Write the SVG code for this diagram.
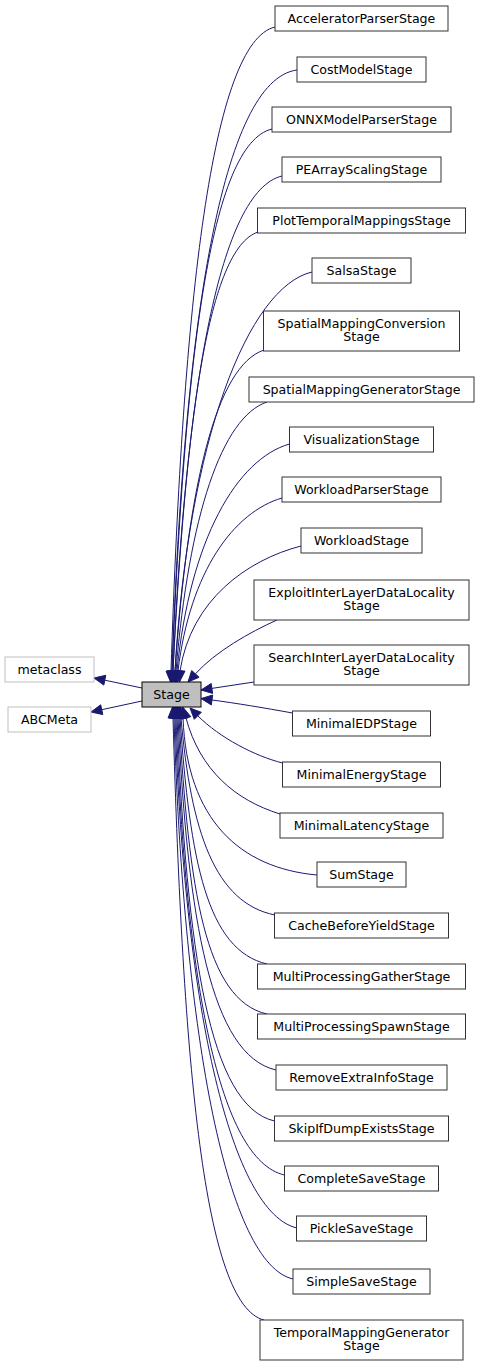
<svg xmlns="http://www.w3.org/2000/svg" width="480" height="1366" viewBox="0 0 480 1366">
<style>
.n rect{fill:#ffffff;stroke:#333333;stroke-width:1}
.g rect{fill:#ffffff;stroke:#bfbfbf;stroke-width:1}
.s rect{fill:#bfbfbf;stroke:#000000;stroke-width:1}
text{font-family:"DejaVu Sans","Liberation Sans",sans-serif;font-size:12.6px;fill:#000;text-anchor:middle}
#edges path{fill:none;stroke:#191970;stroke-width:1}
#edges polygon{fill:#191970;stroke:#191970;stroke-width:1}
</style>
<rect width="480" height="1366" fill="#ffffff"/>
<g id="edges">
<path d="M275,27 C212,42 183,298 171,671"/><polygon points="166,671 176,671 170.5,682"/>
<path d="M297,70 C222,80 184,322 172,671"/><polygon points="167,671 177,671 171.5,682"/>
<path d="M272,129 C210,144 185,357 172,671"/><polygon points="167,671 177,671 171.5,682"/>
<path d="M282,176 C220,191 186,384 173,671"/><polygon points="168,671 178,671 172.5,682"/>
<path d="M258,232 C208,249 186,418 173,671"/><polygon points="168,671 178,671 172.5,682"/>
<path d="M312,272 C248,287 188,440 175,671"/><polygon points="170,671 180,671 174.5,682"/>
<path d="M264,350 C216,366 188,485 175,671"/><polygon points="170,671 180,671 174.5,682"/>
<path d="M267,402 C222,417 189,515 176,671"/><polygon points="171,671 181,671 175.5,682"/>
<path d="M289.5,444 C237,459 190,539 177,671"/><polygon points="172,671 182,671 176.5,682"/>
<path d="M282,498 C234,512 190,571 178,671"/><polygon points="173,671 183,671 177.5,682"/>
<path d="M301,546 C247,560 191,600 180,671"/><polygon points="175,671 185,671 179.5,682"/>
<path d="M277,620 C250,632 215,652 195.4,673.9"/><polygon points="199.1,677.3 191.7,670.5 188,682"/>
<path d="M254,682 L211.9,688.4"/><polygon points="212.6,693.4 211.2,683.5 201,690"/>
<path d="M292.5,713 C265,708 235,703 212,700"/><polygon points="212.65,695.05 211.35,704.95 201.1,698.6"/>
<path d="M282.5,763 C255,756 220,738 197.8,715.8"/><polygon points="201.3,712.3 194.3,719.3 190,708"/>
<path d="M280,814 C235,800 200,770 186,718"/><polygon points="190.8,716.7 181.2,719.3 183.1,707.4"/>
<path d="M317,875 C240,868 187,820 183,718"/><polygon points="178,718 188,718 182.5,707"/>
<path d="M275,915 C215,903 191,832 181,718"/><polygon points="176,718 186,718 180.5,707"/>
<path d="M267,964 C207,950 190,861 180,718"/><polygon points="175,718 185,718 179.5,707"/>
<path d="M267,1014 C205,1000 189,890 179,718"/><polygon points="174,718 184,718 178.5,707"/>
<path d="M276,1070 C211,1055 188,922 178,718"/><polygon points="173,718 183,718 177.5,707"/>
<path d="M274.5,1121 C209,1106 187,952 177,718"/><polygon points="172,718 182,718 176.5,707"/>
<path d="M284.5,1175 C219,1160 186,983 176,718"/><polygon points="171,718 181,718 175.5,707"/>
<path d="M297,1228 C232,1213 185,1014 175,718"/><polygon points="170,718 180,718 174.5,707"/>
<path d="M293,1279 C228,1264 184,1043 174,718"/><polygon points="169,718 179,718 173.5,707"/>
<path d="M264,1320 C204,1305 183,1067 173,718"/><polygon points="168,718 178,718 172.5,707"/>
<path d="M142,688 L104.8,680.2"/><polygon points="105.8,675.3 103.8,685.1 94,678"/>
<path d="M142,701 L101.75,709.7"/><polygon points="102.8,714.6 100.7,704.8 91,712"/>
</g>
<g id="node-Stage" class="s"><rect x="142" y="682" width="59" height="25"/><text x="171.5" y="699">Stage</text></g>
<g id="node-metaclass" class="g"><rect x="5" y="657" width="89" height="25"/><text x="49.5" y="674">metaclass</text></g>
<g id="node-ABCMeta" class="g"><rect x="8" y="707" width="83" height="25"/><text x="49.5" y="724">ABCMeta</text></g>
<g id="node-AcceleratorParserStage" class="n"><rect x="275" y="6" width="173" height="25"/><text x="361.5" y="23">AcceleratorParserStage</text></g>
<g id="node-CostModelStage" class="n"><rect x="297" y="57" width="129" height="25"/><text x="361.5" y="74">CostModelStage</text></g>
<g id="node-ONNXModelParserStage" class="n"><rect x="272" y="107" width="179" height="25"/><text x="361.5" y="124">ONNXModelParserStage</text></g>
<g id="node-PEArrayScalingStage" class="n"><rect x="282" y="157" width="159" height="25"/><text x="361.5" y="174">PEArrayScalingStage</text></g>
<g id="node-PlotTemporalMappingsStage" class="n"><rect x="257.5" y="208" width="208" height="25"/><text x="361.5" y="225">PlotTemporalMappingsStage</text></g>
<g id="node-SalsaStage" class="n"><rect x="312" y="258" width="99" height="25"/><text x="361.5" y="275">SalsaStage</text></g>
<g id="node-SpatialMappingConversionStage" class="n"><rect x="263.5" y="311" width="196" height="40"/><text x="361.5" y="327.5">SpatialMappingConversion</text><text x="361.5" y="341">Stage</text></g>
<g id="node-SpatialMappingGeneratorStage" class="n"><rect x="249" y="377" width="225" height="25"/><text x="361.5" y="394">SpatialMappingGeneratorStage</text></g>
<g id="node-VisualizationStage" class="n"><rect x="289.5" y="427" width="144" height="25"/><text x="361.5" y="444">VisualizationStage</text></g>
<g id="node-WorkloadParserStage" class="n"><rect x="282" y="477" width="159" height="25"/><text x="361.5" y="494">WorkloadParserStage</text></g>
<g id="node-WorkloadStage" class="n"><rect x="301" y="528" width="121" height="25"/><text x="361.5" y="545">WorkloadStage</text></g>
<g id="node-ExploitInterLayerDataLocalityStage" class="n"><rect x="254" y="580" width="215" height="40"/><text x="361.5" y="596.5">ExploitInterLayerDataLocality</text><text x="361.5" y="610">Stage</text></g>
<g id="node-SearchInterLayerDataLocalityStage" class="n"><rect x="254" y="645" width="215" height="40"/><text x="361.5" y="661.5">SearchInterLayerDataLocality</text><text x="361.5" y="675">Stage</text></g>
<g id="node-MinimalEDPStage" class="n"><rect x="292.5" y="711" width="138" height="25"/><text x="361.5" y="728">MinimalEDPStage</text></g>
<g id="node-MinimalEnergyStage" class="n"><rect x="282.5" y="762" width="158" height="25"/><text x="361.5" y="779">MinimalEnergyStage</text></g>
<g id="node-MinimalLatencyStage" class="n"><rect x="280" y="813" width="163" height="25"/><text x="361.5" y="830">MinimalLatencyStage</text></g>
<g id="node-SumStage" class="n"><rect x="317" y="862" width="89" height="25"/><text x="361.5" y="879">SumStage</text></g>
<g id="node-CacheBeforeYieldStage" class="n"><rect x="274.5" y="913" width="174" height="25"/><text x="361.5" y="930">CacheBeforeYieldStage</text></g>
<g id="node-MultiProcessingGatherStage" class="n"><rect x="257.5" y="964" width="208" height="25"/><text x="361.5" y="981">MultiProcessingGatherStage</text></g>
<g id="node-MultiProcessingSpawnStage" class="n"><rect x="257.5" y="1014" width="208" height="25"/><text x="361.5" y="1031">MultiProcessingSpawnStage</text></g>
<g id="node-RemoveExtraInfoStage" class="n"><rect x="276" y="1065" width="171" height="25"/><text x="361.5" y="1082">RemoveExtraInfoStage</text></g>
<g id="node-SkipIfDumpExistsStage" class="n"><rect x="274.5" y="1116" width="174" height="25"/><text x="361.5" y="1133">SkipIfDumpExistsStage</text></g>
<g id="node-CompleteSaveStage" class="n"><rect x="284.5" y="1166" width="154" height="25"/><text x="361.5" y="1183">CompleteSaveStage</text></g>
<g id="node-PickleSaveStage" class="n"><rect x="296.5" y="1216" width="130" height="25"/><text x="361.5" y="1233">PickleSaveStage</text></g>
<g id="node-SimpleSaveStage" class="n"><rect x="293" y="1269" width="137" height="25"/><text x="361.5" y="1286">SimpleSaveStage</text></g>
<g id="node-TemporalMappingGeneratorStage" class="n"><rect x="260" y="1320" width="203" height="40"/><text x="361.5" y="1336.5">TemporalMappingGenerator</text><text x="361.5" y="1350">Stage</text></g>
</svg>
